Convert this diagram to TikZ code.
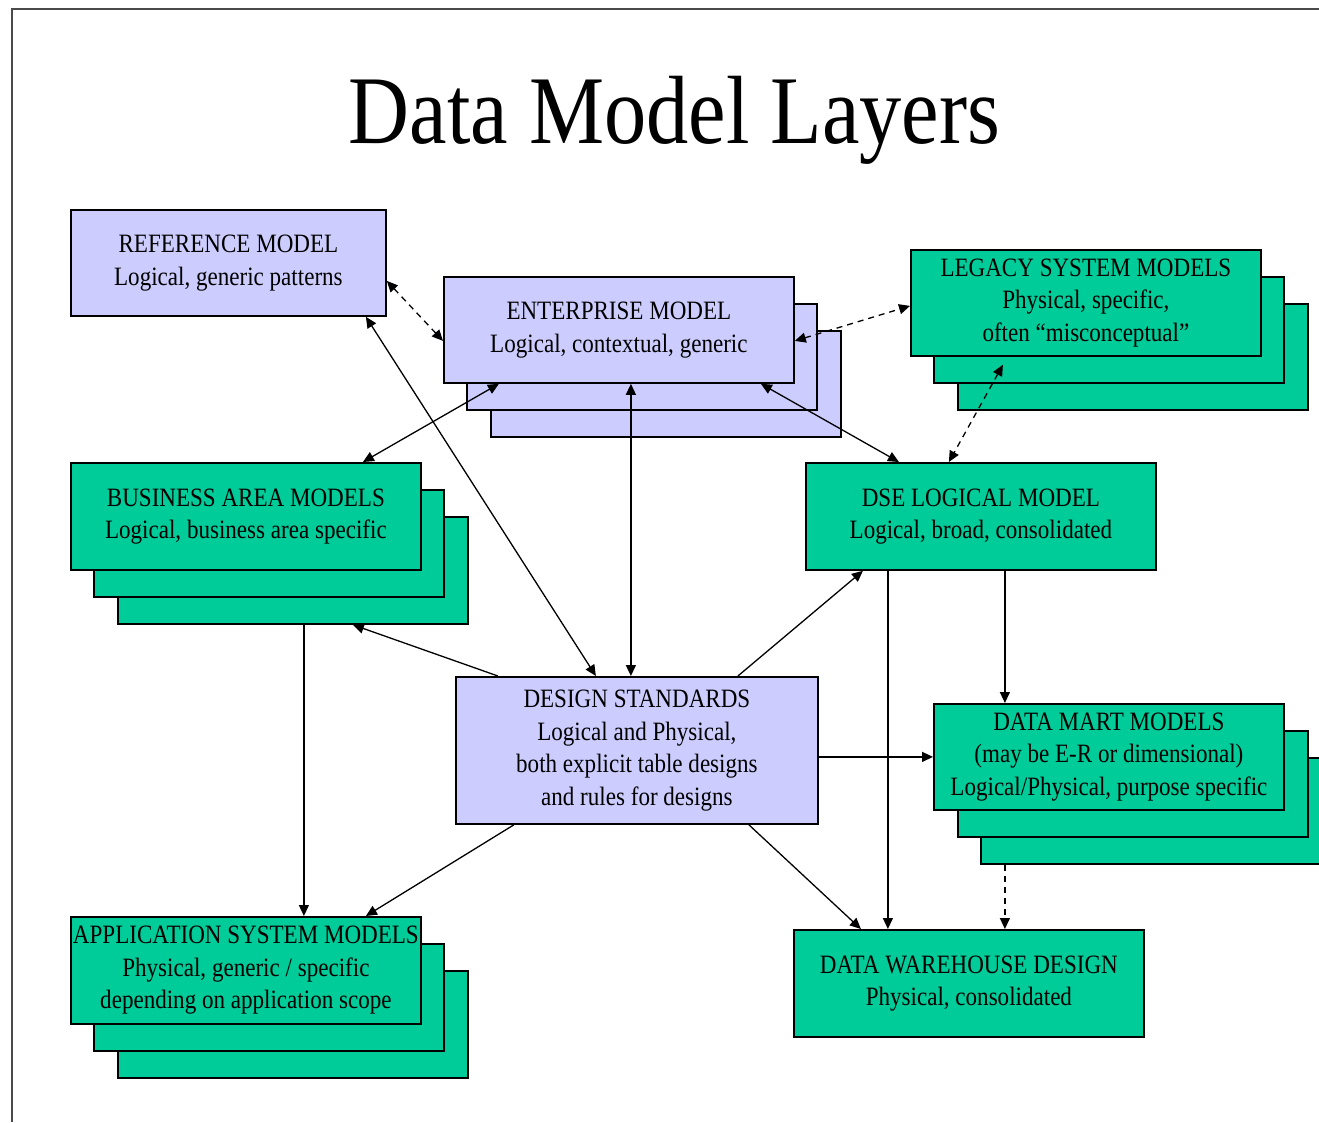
\documentclass[tikz,border=0pt]{standalone}
\usepackage{fontspec}
\setmainfont{Liberation Serif}[FakeStretch=0.87]
\usetikzlibrary{arrows.meta}
\definecolor{lav}{HTML}{CCCCFF}
\definecolor{grn}{HTML}{00CC99}
\definecolor{framegray}{HTML}{4A4A4A}

\begin{document}
\begin{tikzpicture}[x=1pt,y=-1pt,
  box/.style={draw=black, line width=1.8pt, anchor=north west,
    minimum width=350pt, minimum height=106pt, inner sep=0pt,
    align=center, font=\fontsize{26.5}{32.5}\selectfont},
  lavbox/.style={box, fill=lav},
  grnbox/.style={box, fill=grn},
  both/.style={line width=1.3pt,
    {Triangle[length=11pt,width=10pt]}-{Triangle[length=11pt,width=10pt]}},
  one/.style={line width=1.3pt, -{Triangle[length=11pt,width=10pt]}},
  dashline/.style={dash pattern=on 6pt off 5pt}]

\useasboundingbox (0,0) rectangle (1319,1122);

% page frame
\draw[framegray, line width=2.5pt] (12,1122) -- (12,9) -- (1319,9);

% title
\node[anchor=base, font=\fontsize{97}{100}\selectfont] (title) at (674.5,143) {Data Model Layers};

% reference model
\node[lavbox, minimum width=315pt] (ref) at (70,209)
  {REFERENCE MODEL\\Logical, generic patterns};

% enterprise model (stacked)
\node[lavbox] (ent3) at (490,330) {};
\node[lavbox] (ent2) at (466,303) {};
\node[lavbox] (ent1) at (443,276)
  {ENTERPRISE MODEL\\Logical, contextual, generic};

% legacy system models (stacked)
\node[grnbox] (leg3) at (957,303) {};
\node[grnbox] (leg2) at (933,276) {};
\node[grnbox] (leg1) at (910,249)
  {LEGACY SYSTEM MODELS\\Physical, specific,\\often “misconceptual”};

% business area models (stacked)
\node[grnbox, minimum height=107pt] (bus3) at (117,516) {};
\node[grnbox, minimum height=107pt] (bus2) at (93,489) {};
\node[grnbox, minimum height=107pt] (bus1) at (70,462)
  {BUSINESS AREA MODELS\\Logical, business area specific};

% DSE logical model
\node[grnbox, minimum height=107pt] (dse) at (805,462)
  {DSE LOGICAL MODEL\\Logical, broad, consolidated};

% design standards
\node[lavbox, minimum width=362pt, minimum height=147pt] (ds) at (455,676)
  {DESIGN STANDARDS\\Logical and Physical,\\both explicit table designs\\and rules for designs};

% data mart models (stacked)
\node[grnbox] (dm3) at (980,757) {};
\node[grnbox] (dm2) at (957,730) {};
\node[grnbox] (dm1) at (933,703)
  {DATA MART MODELS\\(may be E-R or dimensional)\\Logical/Physical, purpose specific};

% application system models (stacked)
\node[grnbox, minimum height=107pt] (app3) at (117,970) {};
\node[grnbox, minimum height=107pt] (app2) at (93,943) {};
\node[grnbox, minimum height=107pt] (app1) at (70,916)
  {\makebox[0pt]{APPLICATION SYSTEM MODELS}\\Physical, generic / specific\\depending on application scope};

% data warehouse design
\node[grnbox, minimum height=107pt] (dwd) at (793,929)
  {DATA WAREHOUSE DESIGN\\Physical, consolidated};

% connectors
\draw[both, dashline] ([yshift=-18pt]ref.east) -- ([yshift=-11pt]ent1.west);
\draw[both] ([xshift=137.5pt]ref.south) -- ([xshift=-41pt]ds.north);
\draw[both] ([xshift=-120pt]ent1.south) -- ([xshift=117pt]bus1.north);
\draw[both] ([xshift=12pt]ent1.south) -- ([xshift=-6pt]ds.north);
\draw[both] ([xshift=142pt]ent1.south) -- ([xshift=-82pt]dse.north);
\draw[both, dashline] ([yshift=-11pt]ent1.east) -- ([yshift=-3pt]leg1.west);
\draw[both, dashline] ([xshift=-83pt,yshift=-8pt]leg1.south) -- ([xshift=-32pt]dse.north);
\draw[one] ([xshift=-139pt]ds.north) -- ([xshift=60pt]bus3.south);
\draw[one] ([xshift=101pt]ds.north) -- ([xshift=-118pt]dse.south);
\draw[one] ([yshift=-6.5pt]ds.east) -- (dm1.west);
\draw[one] ([xshift=-123pt]ds.south) -- ([xshift=120pt]app1.north);
\draw[one] ([xshift=112pt]ds.south) -- ([xshift=-108pt]dwd.north);
\draw[one] ([xshift=-93pt]dse.south) -- ([xshift=-81pt]dwd.north);
\draw[one] ([xshift=24pt]dse.south) -- ([xshift=-104pt]dm1.north);
\draw[one, dashline] ([xshift=-151pt]dm3.south) -- ([xshift=36pt]dwd.north);
\draw[one] ([xshift=11pt]bus3.south) -- ([xshift=58pt]app1.north);
\end{tikzpicture}
\end{document}
